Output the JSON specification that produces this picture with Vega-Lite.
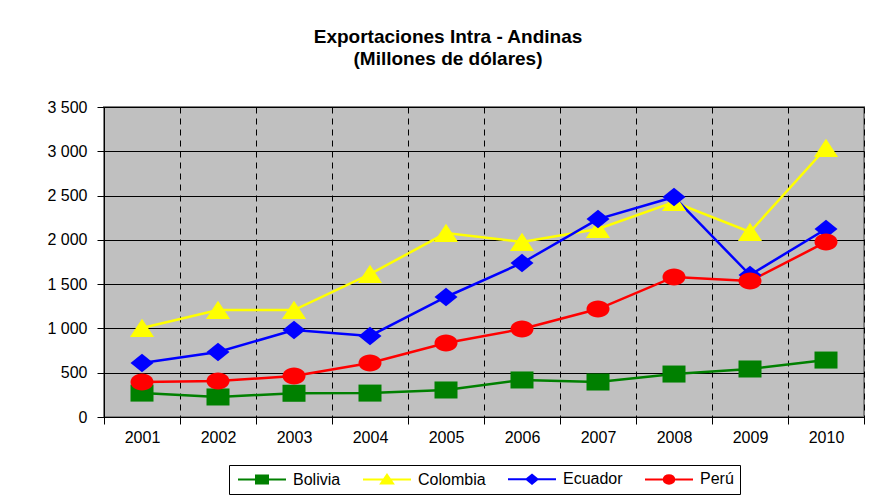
{
  "$schema": "https://vega.github.io/schema/vega-lite/v6.json",
  "width": 760,
  "height": 310,
  "autosize": "none",
  "padding": {"left": 104, "top": 107, "right": 12, "bottom": 84},
  "background": "white",
  "title": {
    "text": ["Exportaciones Intra - Andinas", "(Millones de dólares)"],
    "font": "Liberation Sans",
    "fontSize": 19,
    "fontWeight": "bold",
    "color": "black",
    "anchor": "middle",
    "dx": -36,
    "offset": 30,
    "lineHeight": 22
  },
  "config": {
    "view": {"fill": "#C0C0C0", "stroke": "#808080", "strokeWidth": 2},
    "font": "Liberation Sans",
    "legend": {"layout": {"bottom": {"anchor": "middle"}}}
  },
  "data": {
    "values": [
      {"anio": "2001", "pais": "Bolivia", "valor": 270},
      {"anio": "2002", "pais": "Bolivia", "valor": 226},
      {"anio": "2003", "pais": "Bolivia", "valor": 268},
      {"anio": "2004", "pais": "Bolivia", "valor": 270},
      {"anio": "2005", "pais": "Bolivia", "valor": 305},
      {"anio": "2006", "pais": "Bolivia", "valor": 418},
      {"anio": "2007", "pais": "Bolivia", "valor": 395},
      {"anio": "2008", "pais": "Bolivia", "valor": 485},
      {"anio": "2009", "pais": "Bolivia", "valor": 542},
      {"anio": "2010", "pais": "Bolivia", "valor": 643},
      {"anio": "2001", "pais": "Colombia", "valor": 1005},
      {"anio": "2002", "pais": "Colombia", "valor": 1208},
      {"anio": "2003", "pais": "Colombia", "valor": 1208},
      {"anio": "2004", "pais": "Colombia", "valor": 1614},
      {"anio": "2005", "pais": "Colombia", "valor": 2077},
      {"anio": "2006", "pais": "Colombia", "valor": 1976},
      {"anio": "2007", "pais": "Colombia", "valor": 2123},
      {"anio": "2008", "pais": "Colombia", "valor": 2427},
      {"anio": "2009", "pais": "Colombia", "valor": 2089},
      {"anio": "2010", "pais": "Colombia", "valor": 3037},
      {"anio": "2001", "pais": "Ecuador", "valor": 610},
      {"anio": "2002", "pais": "Ecuador", "valor": 734},
      {"anio": "2003", "pais": "Ecuador", "valor": 982},
      {"anio": "2004", "pais": "Ecuador", "valor": 915},
      {"anio": "2005", "pais": "Ecuador", "valor": 1355},
      {"anio": "2006", "pais": "Ecuador", "valor": 1739},
      {"anio": "2007", "pais": "Ecuador", "valor": 2235},
      {"anio": "2008", "pais": "Ecuador", "valor": 2484},
      {"anio": "2009", "pais": "Ecuador", "valor": 1603},
      {"anio": "2010", "pais": "Ecuador", "valor": 2123},
      {"anio": "2001", "pais": "Perú", "valor": 395},
      {"anio": "2002", "pais": "Perú", "valor": 406},
      {"anio": "2003", "pais": "Perú", "valor": 463},
      {"anio": "2004", "pais": "Perú", "valor": 610},
      {"anio": "2005", "pais": "Perú", "valor": 835},
      {"anio": "2006", "pais": "Perú", "valor": 994},
      {"anio": "2007", "pais": "Perú", "valor": 1219},
      {"anio": "2008", "pais": "Perú", "valor": 1581},
      {"anio": "2009", "pais": "Perú", "valor": 1535},
      {"anio": "2010", "pais": "Perú", "valor": 1976}
    ]
  },
  "encoding": {
    "x": {
      "field": "anio",
      "type": "ordinal",
      "scale": {"paddingInner": 0, "paddingOuter": 0},
      "axis": {
        "title": null,
        "labelAngle": 0,
        "labelFontSize": 16,
        "labelColor": "black",
        "labelPadding": 5,
        "tickBand": "extent",
        "tickSize": 7,
        "tickColor": "black",
        "domainColor": "black",
        "grid": true,
        "gridColor": "black",
        "gridDash": [6, 5],
        "gridWidth": 1
      }
    },
    "y": {
      "field": "valor",
      "type": "quantitative",
      "scale": {"domain": [0, 3500], "nice": false},
      "axis": {
        "title": null,
        "values": [0, 500, 1000, 1500, 2000, 2500, 3000, 3500],
        "labelExpr": "replace(format(datum.value, ','), ',', ' ')",
        "labelFontSize": 16,
        "labelColor": "black",
        "labelPadding": 10,
        "tickSize": 7,
        "tickColor": "black",
        "domainColor": "black",
        "grid": true,
        "gridColor": "black",
        "gridWidth": 1
      }
    }
  },
  "layer": [
    {
      "mark": {"type": "line", "strokeWidth": 2.5},
      "encoding": {
        "color": {
          "field": "pais",
          "type": "nominal",
          "scale": {
            "domain": ["Bolivia", "Colombia", "Ecuador", "Perú"],
            "range": ["#008000", "#FFFF00", "#0000FF", "#FF0000"]
          },
          "legend": {
            "title": null,
            "orient": "bottom",
            "direction": "horizontal",
            "offset": 20,
            "labelFontSize": 16,
            "labelColor": "black",
            "symbolSize": 100,
            "symbolStrokeWidth": 2,
            "columnPadding": 18,
            "labelOffset": 42,
            "padding": 6,
            "strokeColor": "black",
            "fillColor": "white",
            "encode": {
              "symbols": {
                "update": {
                  "shape": {"signal": "datum.value === 'Bolivia' ? 'M-1,0H8.6M2.6,-0.8H5V0.8H2.6Z' : datum.value === 'Colombia' ? 'M-1,0H8.6M3.8,-0.95L5,0.8H2.6Z' : datum.value === 'Ecuador' ? 'M-1,0H8.6M3.8,-0.9L4.9,0L3.8,0.9L2.7,0Z' : 'M-1,0H8.6M4.85,0A1.05,0.85,0,1,1,2.75,0A1.05,0.85,0,1,1,4.85,0Z'"},
                  "fill": {"signal": "scale('color', datum.value)"},
                  "stroke": {"signal": "scale('color', datum.value)"},
                  "strokeWidth": {"value": 2},
                  "opacity": {"value": 1},
                  "fillOpacity": {"value": 1}
                }
              }
            }
          }
        }
      }
    },
    {
      "transform": [{"filter": "datum.pais === 'Bolivia'"}],
      "mark": {"type": "point", "filled": true, "opacity": 1, "size": 529, "color": "#008000", "shape": "M-1,-0.74H1V0.74H-1Z"}
    },
    {
      "transform": [{"filter": "datum.pais === 'Colombia'"}],
      "mark": {"type": "point", "filled": true, "opacity": 1, "size": 529, "color": "#FFFF00", "shape": "M0,-0.8L1.05,0.78H-1.05Z"}
    },
    {
      "transform": [{"filter": "datum.pais === 'Ecuador'"}],
      "mark": {"type": "point", "filled": true, "opacity": 1, "size": 529, "color": "#0000FF", "shape": "M0,-0.8L1,0L0,0.8L-1,0Z"}
    },
    {
      "transform": [{"filter": "datum.pais === 'Perú'"}],
      "mark": {"type": "point", "filled": true, "opacity": 1, "size": 529, "color": "#FF0000", "shape": "M1,0A1,0.74,0,1,1,-1,0A1,0.74,0,1,1,1,0Z"}
    }
  ]
}
